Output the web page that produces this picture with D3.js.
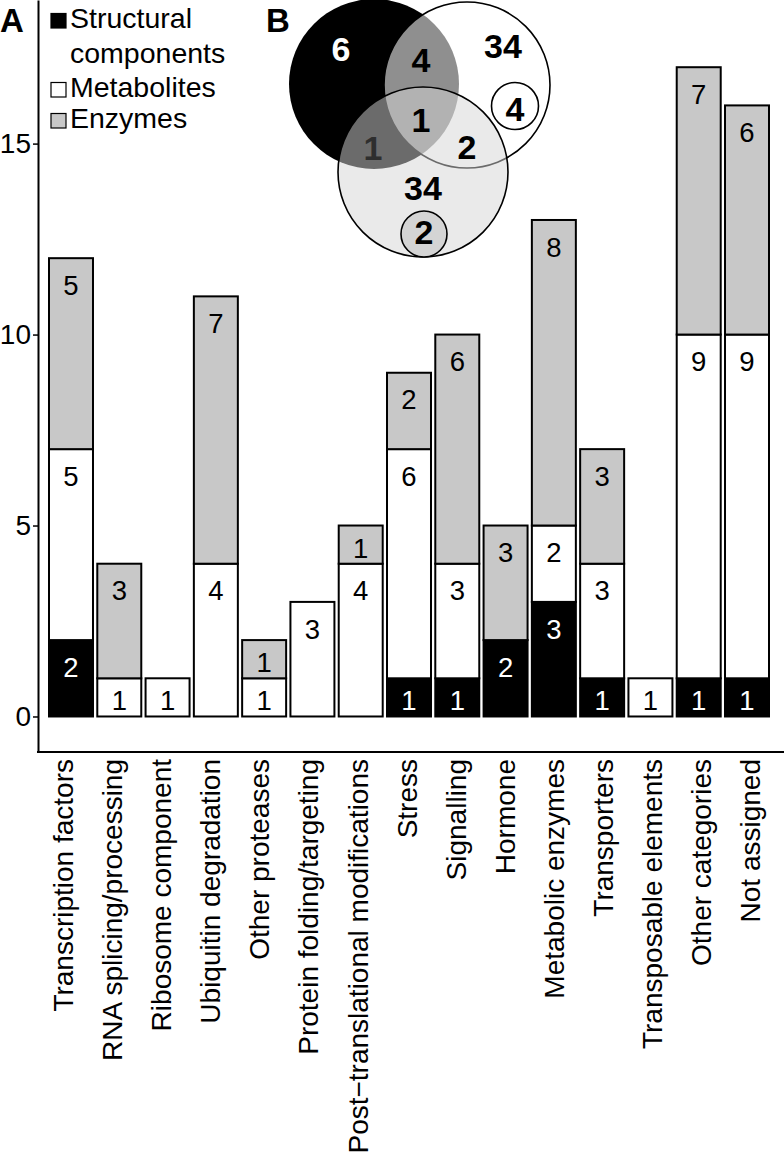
<!DOCTYPE html>
<html>
<head>
<meta charset="utf-8">
<script src="https://cdn.jsdelivr.net/npm/d3@7/dist/d3.min.js"></script>
<style>
  html, body { margin: 0; padding: 0; background: #fff; }
  svg { display: block; font-family: "Liberation Sans", Arial, Helvetica, sans-serif; }
</style>
</head>
<body>
<svg id="chart" width="784" height="1158"></svg>
<script>
// ---------- data ----------
const categories = [
  "Transcription factors", "RNA splicing/processing", "Ribosome component",
  "Ubiquitin degradation", "Other proteases", "Protein folding/targeting",
  "Post\u2212translational modifications", "Stress", "Signalling", "Hormone",
  "Metabolic enzymes", "Transporters", "Transposable elements",
  "Other categories", "Not assigned"
];
const seriesNames = ["Structural components", "Metabolites", "Enzymes"];
const structural = [2, 0, 0, 0, 0, 0, 0, 1, 1, 2, 3, 1, 0, 1, 1];
const metabolites = [5, 1, 1, 4, 1, 3, 4, 6, 3, 0, 2, 3, 1, 9, 9];
const enzymes    = [5, 3, 0, 7, 1, 0, 1, 2, 6, 3, 8, 3, 0, 7, 6];
const yTicks = [0, 5, 10, 15];

// Venn (panel B)
const vennSets = ["Structural components", "Metabolites", "Enzymes"];
const vennOnlyStructural = 6;
const vennOnlyMetabolites = 34;
const vennOnlyEnzymes = 34;
const vennStructMetab = 4;
const vennStructEnz = 1;
const vennMetabEnz = 2;
const vennAll = 1;
const vennMetabSub = 4;
const vennEnzSub = 2;

// ---------- chart ----------
const svg = d3.select("#chart");
const fills = ["#000000", "#ffffff", "#c8c8c8"];
const textFill = ["#ffffff", "#000000", "#000000"];

const axisX = 38, axisBottomY = 752;
const x = d3.scaleBand().domain(categories).range([49, 769]).paddingInner(0.089).paddingOuter(0);
const y = d3.scaleLinear().domain([-0.93, 18.76]).range([axisBottomY, 0]);
const labelX = d3.scalePoint().domain(categories).range([63, 750]);

const table = categories.map((c, i) => ({
  cat: c, s0: structural[i], s1: metabolites[i], s2: enzymes[i]
}));
const stack = d3.stack().keys(["s0", "s1", "s2"])(table);

const g = svg.append("g");
stack.forEach((layer, k) => {
  layer.forEach(d => {
    const v = d[1] - d[0];
    if (v <= 0) return;
    const cat = d.data.cat;
    g.append("rect")
      .attr("x", x(cat))
      .attr("y", y(d[1]))
      .attr("width", x.bandwidth())
      .attr("height", y(d[0]) - y(d[1]))
      .attr("fill", fills[k])
      .attr("stroke", "#000")
      .attr("stroke-width", 2);
    const off = Math.min(0.7, v - 0.42);
    g.append("text")
      .attr("x", x(cat) + x.bandwidth() / 2)
      .attr("y", y(d[1] - off))
      .attr("dy", "0.36em")
      .attr("text-anchor", "middle")
      .attr("font-size", 27.5)
      .attr("fill", textFill[k])
      .text(v);
  });
});

// y axis
const yAxis = d3.axisLeft(y).tickValues(yTicks).tickSize(5).tickSizeOuter(0).tickPadding(2);
const ya = svg.append("g").attr("transform", `translate(${axisX},0)`).call(yAxis);
ya.select(".domain").attr("stroke-width", 2);
ya.selectAll(".tick line").attr("stroke-width", 1.5);
ya.selectAll(".tick text").attr("font-size", 28).attr("fill", "#000")
  .attr("font-family", "'Liberation Sans', Arial, sans-serif");

// x axis line
svg.append("line").attr("x1", axisX - 1).attr("x2", 784)
  .attr("y1", axisBottomY).attr("y2", axisBottomY)
  .attr("stroke", "#000").attr("stroke-width", 2);

// x labels
svg.append("g").selectAll("text").data(categories).join("text")
  .attr("transform", d => `translate(${labelX(d)},759) rotate(-90)`)
  .attr("text-anchor", "end")
  .attr("dy", "0.36em")
  .attr("font-size", 28)
  .text(d => d);

// legend
const legBase = [28, 97, 128];
const leg = svg.append("g");
seriesNames.forEach((name, k) => {
  const by = legBase[k];
  leg.append("rect").attr("x", 51).attr("y", by - 14.5).attr("width", 15).attr("height", 14.5)
    .attr("fill", fills[k]).attr("stroke", "#000").attr("stroke-width", 1.2);
  if (k === 0) {
    const parts = name.split(" ");
    leg.append("text").attr("x", 70).attr("y", by).attr("font-size", 28.5).text(parts[0]);
    leg.append("text").attr("x", 70).attr("y", by + 35).attr("font-size", 28.5).text(parts[1]);
  } else {
    leg.append("text").attr("x", 70).attr("y", by).attr("font-size", 28.5).text(name);
  }
});

// panel letters
svg.append("text").attr("x", 0).attr("y", 32).attr("font-size", 33).attr("font-weight", "bold").text("A");
svg.append("text").attr("x", 266).attr("y", 32).attr("font-size", 33).attr("font-weight", "bold").text("B");

// Venn
const circles = [
  { cx: 374, cy: 84, r: 85 },   // structural
  { cx: 467, cy: 85, r: 83 },   // metabolites
  { cx: 423, cy: 172, r: 85 }   // enzymes
];
const vg = svg.append("g");
vg.append("circle").attr("cx", circles[0].cx).attr("cy", circles[0].cy).attr("r", circles[0].r)
  .attr("fill", "#000");
vg.append("circle").attr("cx", circles[1].cx).attr("cy", circles[1].cy).attr("r", circles[1].r)
  .attr("fill", "rgba(255,255,255,0.56)").attr("stroke", "#000").attr("stroke-width", 1.6);
vg.append("circle").attr("cx", circles[2].cx).attr("cy", circles[2].cy).attr("r", circles[2].r)
  .attr("fill", "rgba(214,214,214,0.5)").attr("stroke", "#000").attr("stroke-width", 1.6);
// sub circles
vg.append("circle").attr("cx", 515).attr("cy", 106).attr("r", 23.5)
  .attr("fill", "#fff").attr("stroke", "#000").attr("stroke-width", 1.6);
vg.append("circle").attr("cx", 424).attr("cy", 234).attr("r", 23)
  .attr("fill", "#d4d4d4").attr("stroke", "#000").attr("stroke-width", 1.6);

const vennLabels = [
  { v: vennOnlyStructural, x: 341, y: 49, c: "#fff" },
  { v: vennStructMetab, x: 421, y: 60, c: "#000" },
  { v: vennOnlyMetabolites, x: 503, y: 46, c: "#000" },
  { v: vennAll, x: 421, y: 120, c: "#000" },
  { v: vennStructEnz, x: 373, y: 148, c: "#2e2e2e" },
  { v: vennMetabEnz, x: 467, y: 147, c: "#000" },
  { v: vennOnlyEnzymes, x: 423, y: 188, c: "#000" },
  { v: vennMetabSub, x: 515, y: 109, c: "#000" },
  { v: vennEnzSub, x: 424, y: 232, c: "#000" }
];
vg.selectAll("text.vl").data(vennLabels).join("text")
  .attr("class", "vl")
  .attr("x", d => d.x).attr("y", d => d.y)
  .attr("dy", "0.36em")
  .attr("text-anchor", "middle")
  .attr("font-size", 34).attr("font-weight", "bold")
  .attr("fill", d => d.c)
  .text(d => d.v);
</script>
</body>
</html>
